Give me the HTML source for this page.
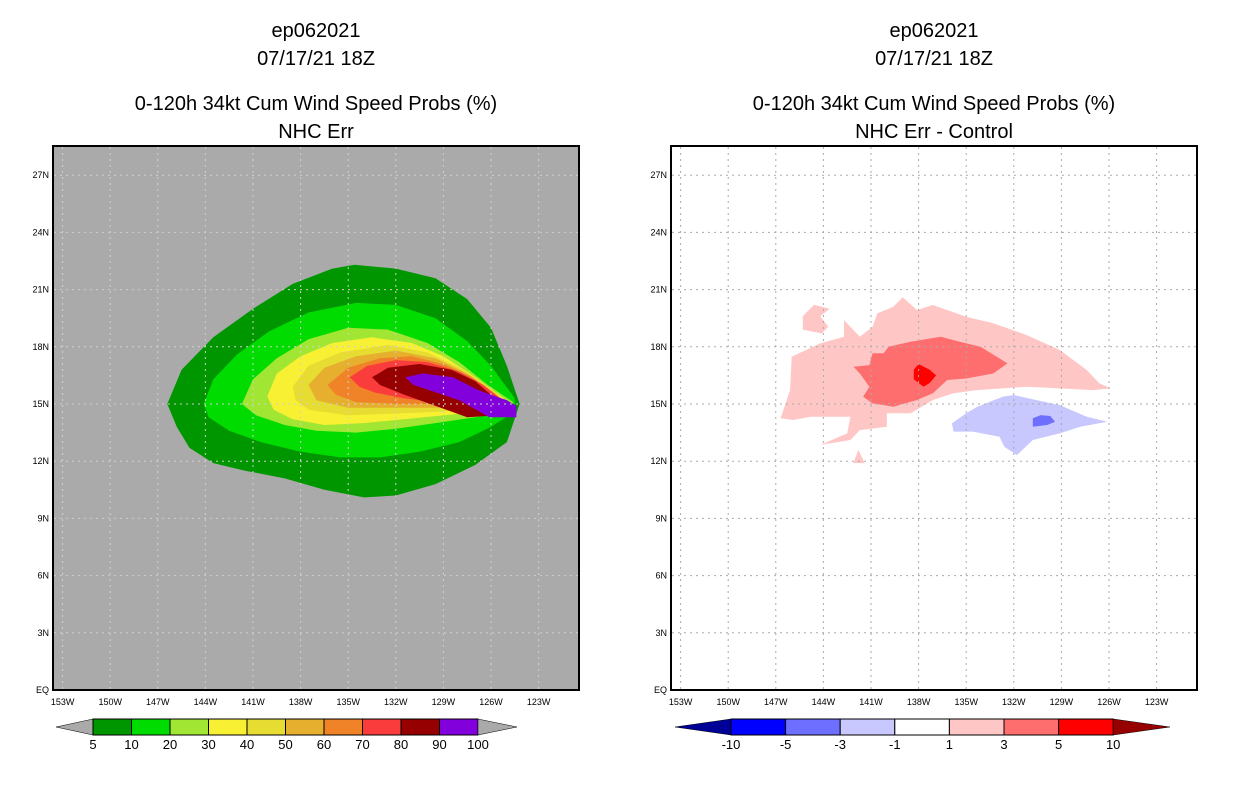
<!DOCTYPE html>
<html><head><meta charset="utf-8"><style>
body{margin:0;background:#fff;width:1236px;height:800px;overflow:hidden}
svg{display:block}
text{font-family:"Liberation Sans",sans-serif}
.t{font-size:20px;text-anchor:middle;fill:#000}
.tk{font-size:9px;fill:#000}
.cb{font-size:13px;text-anchor:middle;fill:#000}
</style></head><body>
<svg id="s" width="1236" height="800">
<defs>
<clipPath id="cl"><rect x="53" y="146" width="526" height="544"/></clipPath>
<clipPath id="cr"><rect x="671" y="146" width="526" height="544"/></clipPath>
</defs>
<g>
<text class="t" x="316" y="37">ep062021</text>
<text class="t" x="316" y="65">07/17/21 18Z</text>
<text class="t" x="316" y="110">0-120h 34kt Cum Wind Speed Probs (%)</text>
<text class="t" x="316" y="138">NHC Err</text>
</g>
<g>
<text class="t" x="934" y="37">ep062021</text>
<text class="t" x="934" y="65">07/17/21 18Z</text>
<text class="t" x="934" y="110">0-120h 34kt Cum Wind Speed Probs (%)</text>
<text class="t" x="934" y="138">NHC Err - Control</text>
</g>
</svg>
<script>
// ---- data ----
const lonTicks=[153,150,147,144,141,138,135,132,129,126,123];
const latTicks=[0,3,6,9,12,15,18,21,24,27];
const probLevels=[5,10,20,30,40,50,60,70,80,90,100];
const probColors=["#009600","#00dc00","#a0e632","#f8f032","#e6dc32","#e6af2d","#f08228","#fa3c3c","#960000","#8200dc"];
const p5=[[146.4,15],[145.5,16.8],[143.5,18.5],[141,20],[138.5,21.3],[136,22.1],[134.6,22.3],[132,22.1],[129.5,21.6],[127.5,20.5],[126,19],[125,17],[124.2,15],[125,13],[127,11.8],[129.5,10.8],[132,10.2],[134,10.1],[136.5,10.5],[139,11.1],[141.5,11.5],[143.5,11.9],[145,12.7],[145.8,13.8]];
const p10=[[144.1,15],[143.5,16.3],[142,17.6],[140,18.8],[137.5,19.8],[134.5,20.3],[132,20.2],[129.5,19.5],[127.5,18.3],[126,17],[124.5,15.3],[124.5,14.6],[126,13.8],[128,13],[130.5,12.5],[133,12.2],[135.5,12.2],[138,12.5],[140.5,13],[142.5,13.6],[143.8,14.3]];
const p20=[[141.7,15],[141,16.3],[139.5,17.4],[137.5,18.4],[135,19],[132.5,18.9],[130,18.2],[128,17.2],[126.2,16],[124.6,15.1],[124.8,14.6],[127,14.3],[129.5,14],[132,13.7],[134.5,13.5],[137,13.6],[139,13.9],[140.8,14.4]];
const p30=[[140.1,15.4],[139.5,16.6],[138,17.5],[136,18.2],[133.5,18.5],[131,18.2],[129,17.5],[127,16.4],[125.2,15.3],[124.8,14.8],[126.5,14.6],[129,14.4],[131.5,14.2],[134,14],[136.5,13.9],[138.5,14.2],[139.7,14.7]];
const p40=[[138.5,15.9],[137.5,17],[135.5,17.7],[132.5,18.1],[130,17.7],[128,16.9],[126,15.8],[124.9,15],[126.5,14.8],[129,14.6],[132,14.5],[135,14.4],[137.5,14.7],[138.3,15.2]];
const p50=[[137.5,16],[136.5,16.9],[134.5,17.5],[132,17.8],[129.5,17.4],[127.5,16.6],[125.8,15.6],[125,15],[126.5,14.9],[129,14.8],[132,14.8],[135,14.8],[137,15.2]];
const p60=[[136.3,16],[135,16.9],[133,17.4],[131,17.5],[129,17.1],[127.2,16.4],[125.7,15.5],[125.1,15.1],[127,15],[129.5,15],[132,15],[134.5,15.1],[135.8,15.5]];
const p70=[[134.9,16.4],[133.8,17],[132,17.3],[130,17.2],[128,16.7],[126.5,16],[125.3,15.2],[125.4,14.6],[127.5,14.8],[129.5,15.1],[131.5,15.3],[133.3,15.6],[134.3,15.9]];
const p80=[[133.5,16.4],[132.5,16.9],[130.5,17.1],[128.5,16.8],[127,16.2],[125.6,15.2],[125.6,14.4],[127.5,14.3],[129.5,14.9],[131.5,15.5],[133,16.0]];
const p90=[[131.4,16.4],[130.3,16.6],[128.4,16.4],[126.7,15.7],[125,15.2],[124.4,14.9],[124.4,14.3],[126.1,14.3],[128,15.2],[130.9,16.0]];
const diffLevels=["-10","-5","-3","-1","1","3","5","10"];
const diffColors=["#000096","#0000ff","#6e6eff","#c8c8ff","#ffffff","#ffc6c6","#ff6e6e","#ff0000","#960000"];
const dPos1=[[146.7,14.25],[146.1,15.73],[146.0,17.48],[144.2,18.18],[142.7,18.53],[142.7,19.4],[141.7,18.53],[140.9,19.05],[140.6,19.75],[139.6,20.1],[139.0,20.6],[138.1,19.93],[137.1,20.19],[135.0,19.58],[133.3,19.23],[131.2,18.62],[129.1,17.83],[127.4,16.78],[126.6,16.08],[125.9,15.82],[127.0,15.73],[129.1,15.82],[131.2,15.9],[134.3,15.73],[135.8,15.56],[137.1,15.21],[138.5,14.51],[140.0,14.51],[140.0,13.81],[141.7,13.63],[142.3,13.11],[144.2,12.85],[142.5,13.46],[142.3,14.33],[144.8,14.33],[145.9,14.16]];
const dPos1b=[[145.3,19.6],[144.6,20.2],[143.6,20.0],[144.2,19.6],[143.7,19.05],[144.1,18.7],[145.3,18.9]];
const dPos1c=[[142.1,11.9],[141.8,12.6],[141.4,11.9]];
const dPos3=[[142.1,16.95],[141.1,17.04],[140.9,17.66],[140.2,17.66],[139.9,18.0],[138.5,18.27],[136.6,18.53],[135.4,18.27],[134.1,18.0],[132.4,17.13],[133.3,16.6],[135.0,16.34],[136.2,16.26],[137.1,15.56],[138.1,15.21],[139.6,14.86],[140.9,15.03],[141.5,15.38],[141.1,15.9],[141.7,16.6]];
const dPos5=[[138.3,16.8],[138.0,17.1],[137.3,16.8],[136.9,16.5],[137.3,16.1],[137.7,15.9],[138.3,16.3]];
const dNeg1=[[135.9,13.98],[135.0,14.51],[134.3,14.86],[132.7,15.38],[132.0,15.47],[130.6,15.21],[129.1,14.94],[127.4,14.33],[126.1,14.07],[127.8,13.81],[129.1,13.46],[130.8,13.11],[131.8,12.32],[132.6,12.76],[132.9,13.28],[134.6,13.55],[135.8,13.55]];
const dNeg3=[[130.8,14.25],[130.3,14.42],[129.7,14.37],[129.4,14.07],[129.9,13.9],[130.8,13.81]];

// ---- axes ----
const S=document.getElementById('s');
const NS='http://www.w3.org/2000/svg';
function mk(t,a,p){const e=document.createElementNS(NS,t);for(const k in a)e.setAttribute(k,a[k]);(p||S).appendChild(e);return e;}
function xs(off){return lon=>off+491-(lon-126)*47.6/3;}
function ys(lat){return 690-lat*57.2/3;}
function poly(pts,x,col,g,name){const e=mk('polygon',{points:pts.map(p=>x(p[0]).toFixed(1)+','+ys(p[1]).toFixed(1)).join(' '),fill:col},g);

}
function panel(off,bg,clip,side){
  const x=xs(off);
  const bgr=mk('rect',{x:53+off,y:146,width:526,height:544,fill:bg});
  
  
  const g=mk('g',{'clip-path':'url(#'+clip+')'});
  
  
  return {x,g};
}
function grid(off,x,col,side){
  const g=mk('g',{stroke:col,'stroke-width':1,'stroke-dasharray':'2,4'});
  
  
  lonTicks.forEach(l=>{const xv=x(l);if(xv>54+off&&xv<578+off)mk('line',{x1:xv,x2:xv,y1:147,y2:689},g);});
  latTicks.forEach(l=>{if(l>0)mk('line',{x1:54+off,x2:578+off,y1:ys(l),y2:ys(l)},g);});
  const f=mk('rect',{x:53+off,y:146,width:526,height:544,fill:'none',stroke:'#000','stroke-width':2});
  
  
  const tg=mk('g',{});
  
  
  lonTicks.forEach(l=>{const t=mk('text',{class:'tk',x:x(l),y:705,'text-anchor':'middle'},tg);t.textContent=l+'W';});
  latTicks.forEach(l=>{const t=mk('text',{class:'tk',x:49+off,y:ys(l)+3,'text-anchor':'end'},tg);t.textContent=l===0?'EQ':l+'N';});
}
function colorbar(x0,w,n,cols,labels,triL,triR,side,labFirst){
  const g=mk('g',{});
  
  
  const y0=719,h=16;
  mk('polygon',{points:`${x0},${y0} ${x0},${y0+h} ${triL},${y0+h/2}`,fill:cols[0],stroke:'#000','stroke-width':0.5},g);
  for(let i=0;i<n;i++)mk('rect',{x:x0+i*w,y:y0,width:w,height:h,fill:cols[i+1],stroke:'#000','stroke-width':1},g);
  const xe=x0+n*w;
  mk('polygon',{points:`${xe},${y0} ${xe},${y0+h} ${triR},${y0+h/2}`,fill:cols[n+1],stroke:'#000','stroke-width':0.5},g);
  labels.forEach((l,i)=>{const t=mk('text',{class:'cb',x:x0+(i+labFirst)*w,y:749},g);t.textContent=l;});
}
// left panel
let L=panel(0,'#aaaaaa','cl','left');
[p5,p10,p20,p30,p40,p50,p60,p70,p80,p90].forEach((p,i)=>poly(p,L.x,probColors[i],L.g,'prob-'+probLevels[i]+'-contour'));
grid(0,L.x,'#cfcfcf','left');
// right panel
let R=panel(618,'#ffffff','cr','right');
poly(dPos1,R.x,diffColors[5],R.g,'diff-plus1-contour');
poly(dPos1b,R.x,diffColors[5],R.g,'diff-plus1-patch');
poly(dPos1c,R.x,diffColors[5],R.g,'diff-plus1-patch-south');
poly(dPos3,R.x,diffColors[6],R.g,'diff-plus3-contour');
poly(dPos5,R.x,diffColors[7],R.g,'diff-plus5-contour');
poly(dNeg1,R.x,diffColors[3],R.g,'diff-minus1-contour');
poly(dNeg3,R.x,diffColors[2],R.g,'diff-minus3-contour');
grid(618,R.x,'#aaaaaa','right');
// colorbars
colorbar(93,38.5,10,['#aaaaaa'].concat(probColors,['#aaaaaa']),probLevels.map(String),56,517,'left',0);
colorbar(731,54.6,7,diffColors,diffLevels,675,1170,'right',0);
</script>
</body></html>
